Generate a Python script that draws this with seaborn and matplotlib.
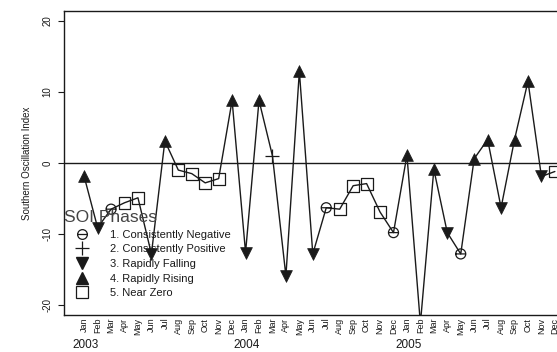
import numpy as np
import pandas as pd
import matplotlib
matplotlib.use("Agg")
import matplotlib.pyplot as plt
import seaborn as sns
from matplotlib.path import Path
from matplotlib.lines import Line2D

# monthly SOI, Jan 2003 - Dec 2005
month_names = ["Jan", "Feb", "Mar", "Apr", "May", "Jun",
               "Jul", "Aug", "Sep", "Oct", "Nov", "Dec"] * 3
year_labels = ["2003", "2004", "2005"]
soi = [-1.9, -9.1, -6.5, -5.6, -4.9, -12.8, 3.1, -1.0, -1.5, -2.8, -2.2, 8.8,
       -12.6, 8.8, 1.0, -15.9, 12.9, -12.8, -6.3, -6.5, -3.2, -2.9, -6.9, -9.8,
       1.1, -22.6, -0.9, -9.8, -12.8, 0.6, 3.3, -6.3, 3.3, 11.5, -1.9, -1.2]
phase = [4, 3, 1, 5, 5, 3, 4, 5, 5, 5, 5, 4,
         3, 4, 2, 3, 4, 3, 1, 5, 5, 5, 5, 1,
         4, 3, 4, 3, 1, 4, 4, 3, 4, 4, 3, 5]
phase_names = ["1. Consistently Negative", "2. Consistently Positive",
               "3. Rapidly Falling", "4. Rapidly Rising", "5. Near Zero"]

df = pd.DataFrame({"t": np.arange(len(soi)), "soi": soi, "phase": phase})

sns.set_style("white")
plt.rcParams["font.family"] = ["Liberation Sans", "DejaVu Sans"]
plt.rcParams["axes.unicode_minus"] = False

ink = "#1a1a1a"

# circle with a bar through it
ominus = Path.make_compound_path(
    Path.unit_circle(),
    Path([[-1, 0], [1, 0]], [Path.MOVETO, Path.LINETO]))

# marker settings per phase
styles = {
    1: dict(marker=ominus, s=52, facecolor="none", edgecolor=ink, linewidth=0.9),
    2: dict(marker="+", s=88, color=ink, linewidth=0.9),
    3: dict(marker="v", s=72, color=ink, edgecolor=ink, linewidth=0.5),
    4: dict(marker="^", s=72, color=ink, edgecolor=ink, linewidth=0.5),
    5: dict(marker="s", s=74, facecolor="none", edgecolor=ink, linewidth=0.9),
}

fig = plt.figure(figsize=(5.57, 3.52), dpi=100)
ax = fig.add_axes([0.1149, 0.105, 0.9175, 0.864])

ax.axhline(0, color=ink, lw=1.0, zorder=1)
sns.lineplot(data=df, x="t", y="soi", color=ink, lw=1.0, sort=False,
             estimator=None, ax=ax, zorder=2)
for p, kw in styles.items():
    sub = df[df["phase"] == p]
    sns.scatterplot(data=sub, x="t", y="soi", ax=ax, zorder=3, legend=False, **kw)

ax.set_xlim(-1.5, 36.5)
ax.set_ylim(-21.4, 21.4)
ax.set_xticks(df["t"])
ax.set_xticklabels(month_names, rotation=90, fontsize=6.5, color=ink)
ax.set_yticks([-20, -10, 0, 10, 20])
ax.set_yticklabels(["-20", "-10", "0", "10", "20"], rotation=90,
                   fontsize=7, color=ink, va="center")
ax.tick_params(axis="x", length=0, pad=2)
ax.tick_params(axis="y", length=4.5, width=0.8, pad=4, left=True, color=ink)
ax.set_xlabel("")
ax.set_ylabel("Southern Oscillation Index", fontsize=7, color=ink, labelpad=7)

for sp in ax.spines.values():
    sp.set_color(ink)
    sp.set_linewidth(1.0)

trans = ax.get_xaxis_transform()
for i, yr in enumerate(year_labels):
    ax.text(i * 12 + 0.1, -0.1, yr, transform=trans, ha="center", va="center",
            fontsize=8.5, color=ink)

handles = [
    Line2D([], [], ls="none", marker=ominus, ms=7, mfc="none", mec=ink, mew=0.9),
    Line2D([], [], ls="none", marker="+", ms=9.4, color=ink, mew=0.9),
    Line2D([], [], ls="none", marker="v", ms=8.2, color=ink),
    Line2D([], [], ls="none", marker="^", ms=8.2, color=ink),
    Line2D([], [], ls="none", marker="s", ms=8.4, mfc="none", mec=ink, mew=0.9),
]
leg = ax.legend(handles, phase_names, title="SOI Phases", loc="upper left",
                bbox_to_anchor=(64 / 557, 1 - 210 / 352),
                bbox_transform=fig.transFigure, frameon=False, fontsize=8,
                title_fontsize=12.5, alignment="left", borderpad=0,
                handlelength=3.2, handletextpad=0.9, labelspacing=0.42,
                borderaxespad=0)
for t in leg.get_texts():
    t.set_color(ink)
leg.get_title().set_color("#444444")

fig.savefig("out.png", dpi=100)
